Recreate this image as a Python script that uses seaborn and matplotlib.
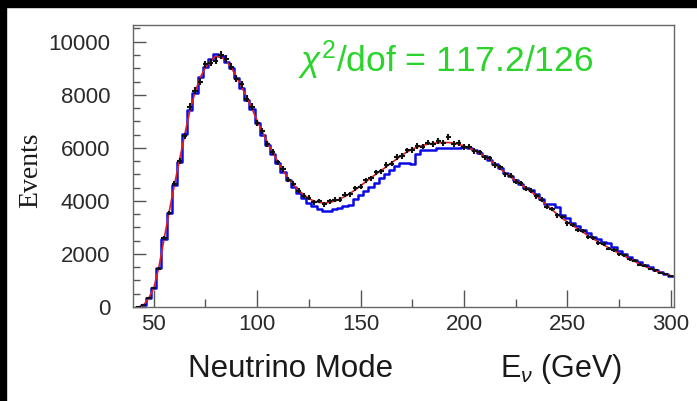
import numpy as np
import pandas as pd
import matplotlib
matplotlib.use("Agg")
import matplotlib.pyplot as plt
from matplotlib.patches import Rectangle
from matplotlib.ticker import MultipleLocator
import seaborn as sns

# ---- data ----
bin_width = 2.5
energy = [42.5 + 2.5 * i for i in range(104)]  # bin centres, GeV

fit = [0, 60, 320, 700, 1500, 2550, 3600, 4600, 5550, 6500,
       7400, 8100, 8650, 9030, 9300, 9440, 9430, 9280, 9020, 8680,
       8300, 7900, 7470, 7030, 6600, 6200, 5830, 5480, 5150, 4860,
       4610, 4400, 4230, 4090, 3990, 3940, 3920, 3940, 3990, 4070,
       4170, 4290, 4420, 4570, 4720, 4870, 5010, 5150, 5290, 5440,
       5580, 5720, 5850, 5950, 6030, 6090, 6140, 6170, 6190, 6200,
       6200, 6180, 6130, 6070, 5990, 5900, 5800, 5680, 5550, 5380,
       5210, 5050, 4900, 4760, 4620, 4480, 4340, 4200, 4020, 3840,
       3670, 3500, 3340, 3200, 3070, 2950, 2820, 2690, 2570, 2450,
       2340, 2230, 2120, 2020, 1920, 1820, 1720, 1620, 1530, 1450,
       1370, 1300, 1230, 1170]

mc = [0, 80, 330, 720, 1480, 2560, 3560, 4580, 5480, 6520,
      7420, 8080, 8680, 9050, 9350, 9550, 9450, 9250, 9000, 8620,
      8250, 7820, 7450, 6950, 6500, 6120, 5780, 5440, 5100, 4780,
      4520, 4290, 4100, 3930, 3790, 3690, 3630, 3610, 3680, 3750,
      3820, 3860, 4080, 4230, 4380, 4520, 4680, 4850, 5000, 5150,
      5300, 5420, 5430, 5380, 5780, 5900, 5920, 5930, 5990, 5990,
      6000, 5990, 6000, 6050, 6000, 5920, 5800, 5700, 5540, 5400,
      5250, 5060, 4920, 4780, 4650, 4500, 4400, 4250, 4080, 3870,
      3900, 3780, 3460, 3350, 3150, 3050, 2900, 2790, 2650, 2550,
      2450, 2430, 2250, 2100, 2000, 1880, 1780, 1690, 1580, 1490,
      1400, 1320, 1230, 1170]

data = [0, 60, 330, 720, 1450, 2600, 3550, 4650, 5500, 6450,
        7550, 8150, 8500, 9150, 9200, 9280, 9500, 9350, 9050, 8600,
        8400, 7850, 7550, 6950, 6650, 6150, 5850, 5450, 5200, 4800,
        4650, 4380, 4200, 4120, 3950, 4000, 3870, 3980, 4050, 4040,
        4230, 4250, 4480, 4540, 4780, 4850, 5080, 5120, 5350, 5400,
        5650, 5700, 5900, 5930, 6080, 6050, 6200, 6150, 6250, 6180,
        6420, 6150, 6180, 6030, 6050, 5870, 5830, 5640, 5600, 5350,
        5260, 5000, 4950, 4720, 4660, 4450, 4380, 4180, 4050, 3780,
        3700, 3450, 3380, 3150, 3100, 2900, 2850, 2650, 2600, 2420,
        2370, 2200, 2150, 1990, 1950, 1800, 1740, 1600, 1550, 1430,
        1390, 1280, 1250, 1160]

y_ticks = [0, 2000, 4000, 6000, 8000, 10000]
x_ticks = [50, 100, 150, 200, 250, 300]

df = pd.DataFrame({"E": energy, "fit": fit, "mc": mc, "data": data})

# ---- style ----
sns.set_style("white")
plt.rcParams["font.family"] = ["Liberation Sans", "DejaVu Sans"]
plt.rcParams["mathtext.fontset"] = "custom"
plt.rcParams["mathtext.rm"] = "Liberation Sans"
plt.rcParams["mathtext.it"] = "Liberation Sans:italic"

W, H = 697, 401
fig = plt.figure(figsize=(W / 100, H / 100), dpi=100, facecolor="white")
ax = fig.add_axes([133 / W, 1 - 307 / H, (674 - 133) / W, (307 - 25) / H])

sns.histplot(data=df, x="E", weights="mc", binwidth=bin_width,
             binrange=(energy[0] - bin_width / 2, energy[-1] + bin_width / 2),
             element="step", fill=False, color="#0a0ae6", linewidth=1.8, ax=ax)
sns.lineplot(data=df, x="E", y="fit", color="#e02020", linewidth=1.2, ax=ax)
ax.errorbar(df["E"], df["data"], xerr=bin_width / 2,
            yerr=np.sqrt(np.maximum(df["data"], 1)) * 1.4,
            fmt="none", ecolor="#111111", elinewidth=1.5, capsize=0, zorder=5)

ax.set_xlim(40, 301.5)
ax.set_ylim(0, 10630)
ax.set_xticks(x_ticks)
ax.set_yticks(y_ticks)
ax.xaxis.set_minor_locator(MultipleLocator(25))
ax.yaxis.set_minor_locator(MultipleLocator(500))
ax.tick_params(axis="both", which="both", direction="in", colors="#555555",
               labelcolor="#2a2a2a", labelsize=16,
               bottom=True, left=True, top=False, right=False)
ax.tick_params(axis="x", which="major", length=12, width=1, pad=5)
ax.tick_params(axis="x", which="minor", length=6, width=1)
ax.tick_params(axis="y", which="major", length=9, width=1, pad=16.5)
ax.tick_params(axis="y", which="minor", length=5, width=1)
for s in ax.spines.values():
    s.set_color("#666666")
    s.set_linewidth(1.0)
ax.set_xlabel("")
ax.set_ylabel("")

fig.text(31 / W, 1 - 170 / H, "Events", rotation=90, ha="center", va="center",
         fontsize=20, family=["Liberation Serif", "DejaVu Serif"], color="#1a1a1a")
fig.text(291 / W, 1 - 377 / H, "Neutrino Mode", ha="center", va="baseline",
         fontsize=22.5, color="#1a1a1a")
fig.text(561 / W, 1 - 377 / H, r"E$_{\nu}$ (GeV)", ha="center", va="baseline",
         fontsize=22, color="#1a1a1a")
fig.text(298 / W, 1 - 72 / H, r"$\chi^{2}$/dof = 117.2/126", ha="left",
         va="baseline", fontsize=25.5, color="#2bd42b")

# black frame strips at top and left
fig.add_artist(Rectangle((0, 1 - 7 / H), 1, 7 / H, transform=fig.transFigure,
                         color="black", zorder=10))
fig.add_artist(Rectangle((0, 0), 6 / W, 1, transform=fig.transFigure,
                         color="black", zorder=10))

fig.savefig("out.png", dpi=100, facecolor="white")
